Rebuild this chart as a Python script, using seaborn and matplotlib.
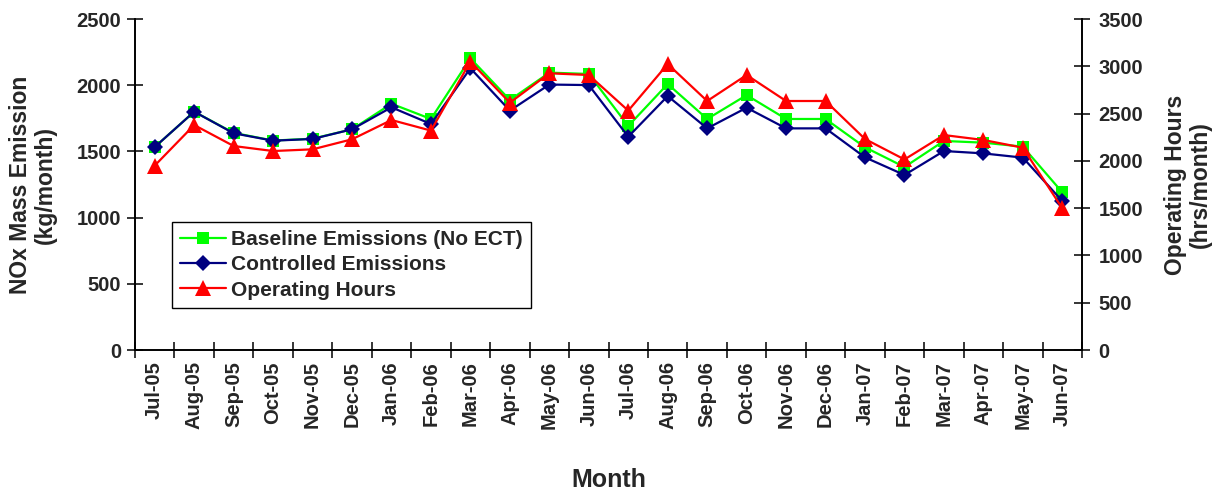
import numpy as np
import pandas as pd
import matplotlib
matplotlib.use("Agg")
import matplotlib.pyplot as plt
from matplotlib.ticker import FixedLocator, MultipleLocator, NullFormatter
import seaborn as sns

months = ["Jul-05", "Aug-05", "Sep-05", "Oct-05", "Nov-05", "Dec-05",
          "Jan-06", "Feb-06", "Mar-06", "Apr-06", "May-06", "Jun-06",
          "Jul-06", "Aug-06", "Sep-06", "Oct-06", "Nov-06", "Dec-06",
          "Jan-07", "Feb-07", "Mar-07", "Apr-07", "May-07", "Jun-07"]

baseline_kg = [1533, 1800, 1640, 1582, 1596, 1667,
               1860, 1745, 2203, 1888, 2095, 2085,
               1692, 2009, 1745, 1925, 1745, 1745,
               1531, 1382, 1579, 1566, 1536, 1191]

controlled_kg = [1533, 1800, 1637, 1581, 1594, 1667,
                 1833, 1707, 2128, 1808, 2005, 2001,
                 1611, 1918, 1674, 1830, 1674, 1674,
                 1455, 1322, 1503, 1485, 1453, 1125]

operating_hrs = [1950, 2379, 2157, 2104, 2122, 2228,
                 2432, 2320, 3050, 2615, 2926, 2908,
                 2531, 3024, 2633, 2908, 2633, 2633,
                 2231, 2015, 2273, 2221, 2139, 1498]

df = pd.DataFrame({
    "pos": np.arange(len(months)),
    "month": months,
    "baseline": baseline_kg,
    "controlled": controlled_kg,
    "hours": operating_hrs,
})

sns.set_style("white")
plt.rcParams["font.family"] = ["Liberation Sans", "DejaVu Sans"]
plt.rcParams["font.weight"] = "bold"

fig = plt.figure(figsize=(12.25, 4.9), dpi=100)
ax = fig.add_axes([0.1102, 0.2857, 0.7731, 0.6755])
ax2 = ax.twinx()

sns.lineplot(data=df, x="pos", y="baseline", ax=ax, color="#00FF00",
             marker="s", markersize=8.5, markeredgewidth=0, linewidth=1.6,
             sort=False, label="Baseline Emissions (No ECT)", legend=False)
sns.lineplot(data=df, x="pos", y="controlled", ax=ax, color="#000080",
             marker="D", markersize=8.5, markeredgewidth=0, linewidth=1.6,
             sort=False, label="Controlled Emissions", legend=False)
sns.lineplot(data=df, x="pos", y="hours", ax=ax2, color="#FF0000",
             marker="^", markersize=11, markeredgewidth=0, linewidth=1.6,
             sort=False, label="Operating Hours", legend=False)

n = len(months)
for a in (ax, ax2):
    a.set_xlim(-0.5, n - 0.5)
    a.spines["top"].set_visible(False)
    for side in ("left", "right", "bottom"):
        a.spines[side].set_color("black")
        a.spines[side].set_linewidth(1.2)

ax.set_ylim(0, 2500)
ax.yaxis.set_major_locator(MultipleLocator(500))
ax2.set_ylim(0, 3500)
ax2.yaxis.set_major_locator(MultipleLocator(500))

# category labels at centres, tick marks on category boundaries
ax.set_xticks(df["pos"])
ax.set_xticklabels(months, rotation=90, fontsize=14.5, fontweight="bold")
ax.tick_params(axis="x", which="major", length=0, pad=8)
ax.xaxis.set_minor_locator(FixedLocator(np.arange(-0.5, n, 1.0)))
ax.xaxis.set_minor_formatter(NullFormatter())
ax.tick_params(axis="x", which="minor", direction="inout", length=12,
               width=1.1, color="black", bottom=True)

ax.tick_params(axis="y", direction="inout", length=12, width=1.1,
               color="black", labelsize=14.5, pad=4, left=True)
ax2.tick_params(axis="y", direction="inout", length=12, width=1.1,
                color="black", labelsize=14.5, pad=6, right=True)
for lab in ax.get_yticklabels() + ax2.get_yticklabels():
    lab.set_fontweight("bold")

ax.set_xlabel("Month", fontsize=18, fontweight="bold", labelpad=28)
ax.set_ylabel("NOx Mass Emission\n(kg/month)", fontsize=16.5,
              fontweight="bold", labelpad=14, linespacing=1.1)
ax2.set_ylabel("Operating Hours\n(hrs/month)", fontsize=16.5,
               fontweight="bold", rotation=90, labelpad=15, linespacing=1.1)

handles = ax.get_lines()[:2] + ax2.get_lines()[:1]
labels = ["Baseline Emissions (No ECT)", "Controlled Emissions", "Operating Hours"]
leg = ax.legend(handles, labels, loc="upper left", bbox_to_anchor=(0.039, 0.387),
                frameon=True, fancybox=False, framealpha=1, edgecolor="black",
                prop={"size": 15, "weight": "bold"}, handlelength=2.2,
                handletextpad=0.25, borderpad=0.4, labelspacing=0.3,
                borderaxespad=0)
leg.get_frame().set_linewidth(1.0)

fig.savefig("out.png", dpi=100, facecolor="white")
